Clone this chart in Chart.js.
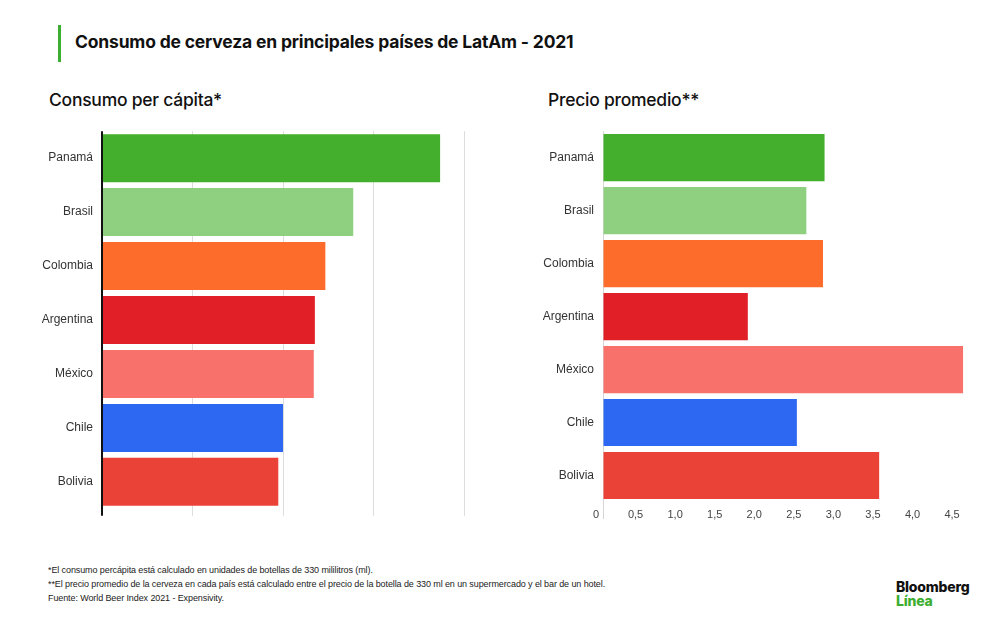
<!DOCTYPE html>
<html>
<head>
<meta charset="utf-8">
<script src="https://cdn.jsdelivr.net/npm/chart.js"></script>
<style>
  body { margin: 0; width: 1000px; height: 618px; background: #fff; position: relative; overflow: hidden; font-family: Inter, sans-serif; color: #111; }
  #mark { position: absolute; left: 58px; top: 25px; width: 3px; height: 37px; background: #3cae30; }
  #title { position: absolute; left: 75px; top: 31px; font-size: 17.5px; font-weight: 700; letter-spacing: -0.18px; line-height: 22px; white-space: nowrap; }
  .sub { position: absolute; top: 89px; font-size: 17.5px; font-weight: 500; letter-spacing: -0.25px; line-height: 22px; white-space: nowrap; }
  canvas { position: absolute; }
  #notes { position: absolute; left: 48px; top: 563px; font-family: "Liberation Sans", sans-serif; font-size: 9px; line-height: 14px; color: #222; letter-spacing: -0.1px; white-space: nowrap; }
  #logo { position: absolute; left: 896px; top: 580px; font-size: 14px; font-weight: 800; letter-spacing: -0.2px; line-height: 14px; }
  #logo .green { color: #3cae30; }
</style>
</head>
<body>
<div id="mark"></div>
<div id="title">Consumo de cerveza en principales países de LatAm - 2021</div>
<div class="sub" style="left:49px">Consumo per cápita*</div>
<div class="sub" style="left:548px">Precio promedio**</div>

<canvas id="consumo" width="470" height="410" style="left:0px; top:115px"></canvas>
<canvas id="precio" width="490" height="415" style="left:500px; top:115px"></canvas>

<div id="notes">
  <div>*El consumo percápita está calculado en unidades de botellas de 330 mililitros (ml).</div>
  <div>**El precio promedio de la cerveza en cada país está calculado entre el precio de la botella de 330 ml en un supermercado y el bar de un hotel.</div>
  <div>Fuente: World Beer Index 2021 - Expensivity.</div>
</div>
<div id="logo"><div>Bloomberg</div><div class="green">Línea</div></div>

<script>
// data
const countries = ['Panamá', 'Brasil', 'Colombia', 'Argentina', 'México', 'Chile', 'Bolivia'];
const consumo = [186.8, 138.8, 123.4, 117.6, 117.0, 100.0, 97.4];   // botellas, no labels on that axis
const precio = [2.80, 2.57, 2.78, 1.83, 4.55, 2.45, 3.49];
const barColors = ['#44af2c', '#8ecf80', '#fe6c2b', '#e01f27', '#f8716a', '#2d68f3', '#eb4237'];
const consumoTicks = [0, 50, 100, 150, 200];
const precioTicks = [0, 0.5, 1, 1.5, 2, 2.5, 3, 3.5, 4, 4.5];

const labelFont = { family: 'Liberation Sans', size: 12 };

function makeDataset(values) {
    return {
        data: values,
        backgroundColor: barColors,
        borderWidth: 0,
        barPercentage: 0.89,
        categoryPercentage: 1
    };
}

// left chart: per capita consumption
new Chart(document.querySelector('#consumo'), {
    type: 'bar',
    data: { labels: countries, datasets: [makeDataset(consumo)] },
    options: {
        indexAxis: 'y',
        responsive: false,
        animation: false,
        layout: { padding: { top: 12, right: 6, left: 0, bottom: 0 } },
        plugins: { legend: { display: false }, tooltip: { enabled: false } },
        scales: {
            x: {
                min: 0,
                max: 200,
                afterBuildTicks: (scale) => { scale.ticks = consumoTicks.map((v) => ({ value: v })); },
                afterFit: (scale) => { scale.height = 14; },
                border: { display: false },
                grid: {
                    color: (ctx) => ctx.tick && ctx.tick.value === 0 ? '#111' : '#dcdcdc',
                    lineWidth: (ctx) => ctx.tick && ctx.tick.value === 0 ? 2 : 1,
                    tickLength: 7
                },
                ticks: { display: false }
            },
            y: {
                afterFit: (scale) => { scale.width = 102; },
                border: { display: false },
                grid: { display: false, drawTicks: false },
                ticks: { font: labelFont, color: '#333', padding: 9 }
            }
        }
    }
});

// right chart: average price
new Chart(document.querySelector('#precio'), {
    type: 'bar',
    data: { labels: countries, datasets: [makeDataset(precio)] },
    options: {
        indexAxis: 'y',
        responsive: false,
        animation: false,
        layout: { padding: { top: 11, right: 23, left: 0, bottom: 0 } },
        plugins: { legend: { display: false }, tooltip: { enabled: false } },
        scales: {
            x: {
                min: 0,
                max: 4.6,
                afterBuildTicks: (scale) => { scale.ticks = precioTicks.map((v) => ({ value: v })); },
                afterFit: (scale) => { scale.height = 28; },
                border: { display: false },
                grid: {
                    color: (ctx) => ctx.tick && ctx.tick.value === 0 ? '#d6d6d6' : 'rgba(0,0,0,0)',
                    tickLength: 17
                },
                ticks: {
                    font: { family: 'Liberation Sans', size: 11 },
                    color: '#444',
                    padding: -11,
                    labelOffset: -7,
                    maxRotation: 0,
                    callback: (value) => value === 0 ? '0' : value.toFixed(1).replace('.', ',')
                }
            },
            y: {
                afterFit: (scale) => { scale.width = 103; },
                border: { display: false },
                grid: { display: false, drawTicks: false },
                ticks: { font: labelFont, color: '#333', padding: 9 }
            }
        }
    }
});
</script>
</body>
</html>
